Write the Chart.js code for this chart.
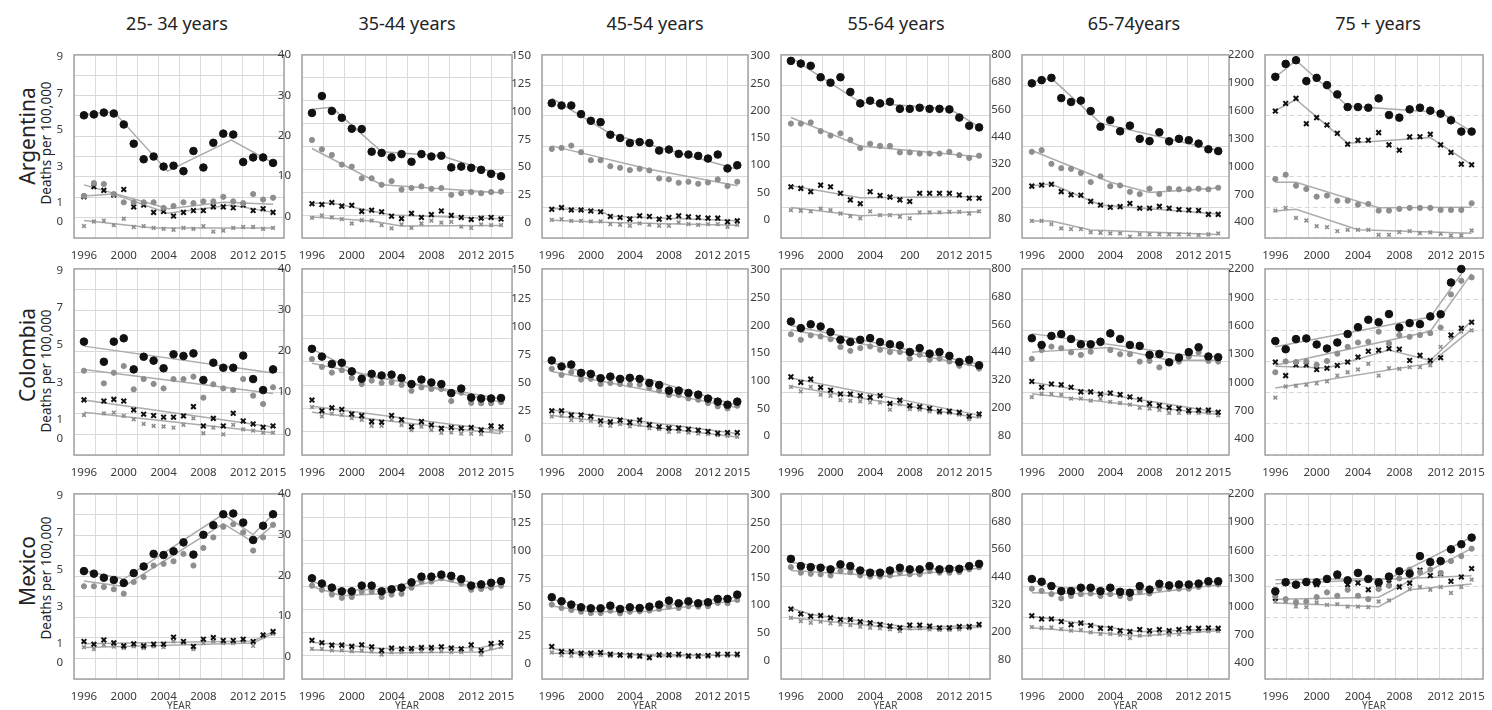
<!DOCTYPE html>
<html>
<head>
<meta charset="utf-8">
<script src="https://cdn.jsdelivr.net/npm/chart.js@4.4.1/dist/chart.umd.min.js"></script>
<style>
  body { margin: 0; background: #fff; }
  #wrap { position: relative; width: 1492px; height: 710px; overflow: hidden; font-family: 'Noto Sans', sans-serif; }
  #wrap canvas { position: absolute; }
  .title { position: absolute; top: 11px; font-size: 18px; color: #222; transform: translateX(-50%); white-space: nowrap; }
  .rot { position: absolute; white-space: nowrap; color: #222; transform: translate(-50%, -50%) rotate(-90deg); }
</style>
</head>
<body>
<div id="wrap"></div>
<script>
// years on the x axis
const years = [1996, 1997, 1998, 1999, 2000, 2001, 2002, 2003, 2004, 2005, 2006, 2007, 2008, 2009, 2010, 2011, 2012, 2013, 2014, 2015];
const xTickYears = [1996, 2000, 2004, 2008, 2012, 2015];
const xLabels = ['1996', '2000', '2004', '2008', '2012', '2015'];
const xLabelsTypo = ['1996', '2000', '2004', '200', '2012', '2015'];

const ageGroups = ['25- 34 years', '35-44 years', '45-54 years', '55-64 years', '65-74years', '75 + years'];
const countries = ['Argentina', 'Colombia', 'Mexico'];

// y axis per age group
const yMins = [-0.9, -5.4, -14, -34, -5, 230];
const yMaxs = [9.1, 40, 151, 302, 800, 2200];
const yTickVals = [
  [0, 1, 3, 5, 7, 9],
  [0, 10, 20, 30, 40],
  [0, 25, 50, 75, 100, 125, 150],
  [0, 50, 100, 150, 200, 250, 300],
  [80, 200, 320, 440, 560, 680, 800],
  [400, 700, 1000, 1300, 1600, 1900, 2200]
];

// ---- Argentina ----
const ARG25_dot = [5.8, 5.85, 5.95, 5.9, 5.3, 4.25, 3.4, 3.55, 3.0, 3.05, 2.75, 3.85, 2.95, 4.3, 4.8, 4.75, 3.25, 3.5, 3.5, 3.2];
const ARG25_dotGray = [1.4, 2.1, 2.05, 1.5, 1.05, 1.05, 1.05, 1.05, 0.75, 0.85, 1.05, 1.0, 1.1, 1.1, 1.35, 1.1, 1.0, 1.5, 1.2, 1.3];
const ARG25_x = [1.35, 1.9, 1.7, 1.45, 1.75, 0.8, 0.9, 0.5, 0.55, 0.3, 0.5, 0.6, 0.6, 0.8, 0.8, 0.75, 0.9, 0.6, 0.7, 0.5];
const ARG25_xGray = [-0.25, 0.0, 0.05, -0.2, 0.15, -0.3, -0.25, -0.35, -0.4, -0.45, -0.35, -0.4, -0.25, -0.55, -0.5, -0.35, -0.3, -0.3, -0.4, -0.35];
const ARG25_dotFit = [[1996, 5.85], [1999, 6.0], [2004.4, 2.75], [2010.8, 4.45], [2015, 3.2]];
const ARG25_dotGrayFit = [[1996, 2.0], [2004.5, 0.7], [2010, 1.05], [2015, 0.95]];
const ARG25_xFit = [[1996, 1.4], [1999, 1.5], [2004.4, 0.45], [2010.8, 0.9], [2015, 0.5]];
const ARG25_xGrayFit = [[1996, 0.05], [2003, -0.35], [2015, -0.35]];

const ARG35_dot = [25.6, 29.8, 26.1, 24.4, 21.7, 21.6, 16.0, 15.7, 14.6, 15.4, 13.5, 15.4, 14.8, 15.0, 12.1, 12.3, 12.0, 11.5, 10.5, 9.9];
const ARG35_dotGray = [18.9, 16.6, 15.2, 12.8, 12.3, 9.4, 9.4, 7.8, 8.7, 6.6, 7.0, 7.4, 6.8, 7.0, 5.3, 5.7, 6.0, 5.7, 6.0, 6.1];
const ARG35_x = [3.1, 2.9, 3.4, 2.5, 2.7, 1.2, 1.5, 1.1, 0.0, -0.6, 0.7, -0.3, 0.4, 1.3, 0.2, -0.3, -0.8, -0.5, -0.3, -0.7];
const ARG35_xGray = [-0.4, 0.2, -0.3, -0.7, -1.8, -1.0, -1.1, -2.2, -3.0, -2.0, -2.9, -1.8, -1.1, -1.6, -1.4, -2.6, -2.9, -2.0, -2.2, -2.2];
const ARG35_dotFit = [[1996, 26.5], [1998, 27.0], [2003, 16.0], [2009, 15.0], [2015, 10.2]];
const ARG35_dotGrayFit = [[1996, 16.8], [2003, 7.8], [2015, 5.8]];
const ARG35_xFit = [[1996, 3.2], [1998, 3.3], [2004, 0.3], [2015, -0.6]];
const ARG35_xGrayFit = [[1996, -0.2], [2002, -1.2], [2005, -2.4], [2015, -2.3]];

const ARG45_dot = [107.5, 105.4, 105.4, 97.6, 91.6, 90.4, 79.1, 76.1, 71.6, 72.5, 71.6, 64.8, 65.7, 61.8, 61.2, 60.0, 57.6, 61.2, 48.7, 51.6];
const ARG45_dotGray = [66.3, 67.2, 69.3, 63.3, 56.1, 56.1, 50.7, 49.3, 47.2, 48.4, 46.9, 39.7, 38.8, 35.8, 36.7, 34.9, 36.0, 38.8, 32.8, 36.7];
const ARG45_x = [11.9, 13.4, 11.3, 11.3, 10.4, 9.6, 5.4, 4.5, 3.0, 6.0, 5.4, 3.0, 4.5, 6.0, 5.1, 4.5, 3.9, 3.9, 0.6, 1.5];
const ARG45_xGray = [2.4, 3.0, 1.5, 1.5, 0.9, 0.9, -1.5, -2.1, -3.0, -0.9, -2.1, -3.0, -3.0, 0, -1.5, -2.1, -1.5, -1.5, -3.9, -2.1];
const ARG45_dotFit = [[1996, 112], [2002, 80], [2015, 48]];
const ARG45_dotGrayFit = [[1996, 69], [2006, 48], [2015, 33]];
const ARG45_xFit = [[1996, 12.5], [2001, 10.5], [2002, 5.5], [2015, 1.5]];
const ARG45_xGrayFit = [[1996, 2], [2002, 0], [2015, -2.5]];

const ARG55_dot = [291, 286, 282, 261, 251, 261, 234, 213, 218, 213, 216, 203, 203, 205, 203, 203, 202, 187, 172, 169];
const ARG55_dotGray = [176, 176, 178, 162, 154, 158, 146, 131, 139, 135, 135, 123, 123, 121, 121, 121, 124, 118, 113, 117];
const ARG55_x = [60, 57, 51, 63, 60, 48, 36, 29, 51, 44, 41, 36, 33, 48, 48, 48, 48, 45, 39, 39];
const ARG55_xGray = [17, 16, 15, 20, 17, 11, 6, 2, 15, 8, 8, 5, 2, 13, 13, 13, 14, 14, 11, 15];
const ARG55_dotFit = [[1996, 297], [2003, 215], [2012, 203], [2015, 170]];
const ARG55_dotGrayFit = [[1996, 187], [2003, 135], [2015, 115]];
const ARG55_xFit = [[1996, 62], [2003, 40], [2015, 42]];
const ARG55_xGrayFit = [[1996, 22], [2003, 7], [2015, 14]];

const ARG65_dot = [675, 689, 699, 610, 593, 599, 553, 484, 513, 464, 489, 431, 421, 460, 420, 431, 425, 410, 385, 377];
const ARG65_dotGray = [374, 381, 321, 302, 299, 281, 241, 266, 223, 226, 198, 188, 212, 188, 212, 209, 209, 212, 209, 216];
const ARG65_x = [223, 228, 231, 199, 185, 183, 156, 140, 130, 133, 147, 126, 126, 134, 126, 120, 118, 116, 99, 99];
const ARG65_xGray = [70, 70, 56, 37, 34, 34, 20, 18, 15, 15, 1, 11, 11, 11, 11, 11, 11, 8, 11, 15];
const ARG65_dotFit = [[1996, 680], [1998, 697], [2003, 500], [2009, 440], [2015, 380]];
const ARG65_dotGrayFit = [[1996, 380], [2004, 240], [2008, 195], [2015, 215]];
const ARG65_xFit = [[1996, 225], [1998, 232], [2003, 140], [2015, 100]];
const ARG65_xGrayFit = [[1996, 70], [1998, 70], [2002, 30], [2015, 10]];

const ARG75_dot = [1964, 2103, 2143, 1918, 1953, 1875, 1775, 1639, 1639, 1632, 1732, 1553, 1525, 1614, 1632, 1600, 1568, 1496, 1375, 1375];
const ARG75_dotGray = [864, 911, 793, 757, 675, 686, 632, 632, 589, 596, 525, 525, 543, 554, 554, 554, 532, 532, 532, 604];
const ARG75_x = [1596, 1678, 1732, 1460, 1525, 1446, 1357, 1239, 1282, 1282, 1364, 1232, 1175, 1318, 1320, 1346, 1232, 1150, 1025, 1018];
const ARG75_xGray = [525, 554, 446, 418, 357, 346, 304, 318, 318, 318, 264, 264, 293, 304, 282, 290, 275, 257, 257, 311];
const ARG75_dotFit = [[1996, 1960], [1998, 2140], [2003, 1650], [2012, 1580], [2015, 1375]];
const ARG75_dotGrayFit = [[1996, 830], [1998, 830], [2006, 555], [2015, 560]];
const ARG75_xFit = [[1996, 1600], [1998, 1720], [2003, 1250], [2011, 1310], [2015, 1020]];
const ARG75_xGrayFit = [[1996, 520], [1998, 540], [2004, 320], [2015, 280]];

// ---- Colombia ----
const COL25_dot = [5.19, null, 4.11, 5.19, 5.37, 3.70, 4.38, 4.17, 3.76, 4.51, 4.42, 4.56, 3.13, 4.06, 3.79, 3.79, 4.44, 3.18, 2.59, 3.70];
const COL25_dotGray = [3.63, null, 2.95, 3.52, 3.88, 2.63, 3.18, 2.92, 2.68, 3.18, 3.18, 3.31, 2.18, 2.90, 2.68, 2.59, 3.18, 2.29, 1.84, 2.74];
const COL25_x = [2.06, null, 2.0, 2.09, 2.0, 1.52, 1.29, 1.22, 1.13, 1.13, 1.20, 1.70, 0.66, 1.07, 0.66, 1.34, 0.93, 0.77, 0.59, 0.66];
const COL25_xGray = [1.25, null, 1.34, 1.38, 1.2, 1.02, 0.77, 0.66, 0.63, 0.57, 0.72, 1.07, 0.27, 0.57, 0.21, 0.72, 0.48, 0.41, 0.30, 0.30];
const COL25_dotFit = [[1996, 4.95], [2015, 3.5]];
const COL25_dotGrayFit = [[1996, 3.7], [2015, 2.4]];
const COL25_xFit = [[1996, 2.05], [2015, 0.6]];
const COL25_xGrayFit = [[1996, 1.4], [2015, 0.3]];

const COL35_dot = [20.5, 18.6, 16.8, 17.1, 15.0, 13.2, 14.4, 14.0, 14.2, 13.4, 11.9, 13.0, 12.3, 11.9, 9.7, 10.8, 8.6, 8.4, 8.4, 8.5];
const COL35_dotGray = [18.0, 16.1, 14.7, 15.3, 13.4, 11.9, 12.75, 12.2, 12.3, 11.7, 10.25, 11.1, 10.7, 10.7, 7.75, 9.8, 7.3, 7.2, 7.2, 7.5];
const COL35_x = [8.0, 5.4, 6.1, 5.7, 4.6, 4.2, 2.75, 2.6, 4.25, 3.2, 1.5, 2.75, 1.9, 1.1, 1.3, 1.1, 1.3, 0.7, 1.7, 1.5];
const COL35_xGray = [6.3, 4.0, 4.7, 4.4, 3.6, 3.2, 1.7, 1.7, 3.2, 1.9, 0.7, 1.5, 0.7, 0, 0.1, -0.2, -0.2, -0.3, 0.7, 0.5];
const COL35_dotFit = [[1996, 20.5], [2001, 14.2], [2015, 8.3]];
const COL35_dotGrayFit = [[1996, 17], [2015, 7.5]];
const COL35_xFit = [[1996, 6.5], [2015, 0.5]];
const COL35_xGrayFit = [[1996, 5], [2015, -0.2]];

const COL45_dot = [69.8, 64.5, 66.2, 58.8, 57.9, 54.1, 55.5, 53.5, 54.4, 53.5, 49.9, 48.1, 43.1, 43.1, 41.0, 39.5, 36, 33.3, 30.6, 33.3];
const COL45_dotGray = [62.4, 57.0, 59.4, 52.9, 53.5, 49.0, 49.9, 49.0, 48.4, 48.4, 45.4, 43.1, 39.2, 39.2, 36.2, 35.0, 32, 29.1, 27.3, 29.7];
const COL45_x = [25.2, 25.2, 21.4, 21.4, 20.2, 16.3, 15.4, 16.9, 14.9, 16.9, 12.8, 11.0, 9.8, 9.8, 8.9, 8.0, 6.8, 5.3, 5.9, 5.9];
const COL45_xGray = [20.2, 20.8, 16.9, 16.9, 16.3, 12.5, 11.9, 13.4, 11.3, 12.8, 9.8, 8.9, 6.5, 6.8, 5.9, 5.0, 4.5, 3.6, 3.0, 2.1];
const COL45_dotFit = [[1996, 68], [2001, 55], [2006, 53], [2015, 30]];
const COL45_dotGrayFit = [[1996, 60], [2015, 28]];
const COL45_xFit = [[1996, 26], [2015, 5]];
const COL45_xGrayFit = [[1996, 21], [2015, 2]];

const COL55_dot = [207, 195, 202, 198, 188, 174, 170, 174, 177, 170, 166, 164, 152, 159, 149, 152, 145, 134, 138, 128];
const COL55_dotGray = [184, 174, 182, 180, 175, 161, 154, 159, 162, 156, 152, 152, 140, 147, 138, 140, 135, 127, 132, 122];
const COL55_x = [107, 97, 103, 88, 83, 76, 76, 73, 70, 73, 59, 65, 55, 53, 50, 45, 45, 43, 36, 40];
const COL55_xGray = [89, 81, 89, 75, 73, 65, 64, 63, 61, 61, 48, 58, 49, 48, 45, 42, 42, 39, 31, 36];
const COL55_dotFit = [[1996, 200], [2015, 130]];
const COL55_dotGrayFit = [[1996, 192], [2015, 125]];
const COL55_xFit = [[1996, 105], [2015, 38]];
const COL55_xGrayFit = [[1996, 90], [2015, 33]];

const COL65_dot = [500, 471, 510, 518, 497, 474, 474, 485, 521, 497, 471, 467, 428, 432, 396, 416, 440, 461, 421, 418];
const COL65_dotGray = [411, 449, 464, 457, 439, 428, 442, 478, 449, 431, 431, 399, 402, 374, 396, 399, 420, 439, 402, 399];
const COL65_x = [313, 288, 302, 299, 288, 268, 268, 259, 263, 256, 246, 235, 217, 209, 200, 196, 187, 189, 189, 180];
const COL65_xGray = [245, 260, 259, 256, 239, 239, 230, 238, 225, 220, 213, 199, 196, 190, 177, 177, 177, 177, 177, 166];
const COL65_dotFit = [[1996, 520], [2012, 425], [2015, 420]];
const COL65_dotGrayFit = [[1996, 440], [2004, 460], [2010, 405], [2015, 405]];
const COL65_xFit = [[1996, 310], [2015, 180]];
const COL65_xGrayFit = [[1996, 260], [2015, 170]];

const COL75_dot = [1436, 1350, 1457, 1464, 1400, 1357, 1421, 1511, 1583, 1662, 1636, 1722, 1579, 1626, 1615, 1697, 1720, 2056, 2199, null];
const COL75_dotGray = [1106, 1221, 1214, 1221, 1185, 1225, 1303, 1375, 1421, 1429, 1536, 1411, 1500, 1482, 1500, 1520, 1579, 1930, 2074, 2110];
const COL75_x = [1214, 1070, 1185, 1185, 1135, 1149, 1178, 1214, 1267, 1328, 1339, 1357, 1350, 1231, 1285, 1231, 1260, 1500, 1572, 1636];
const COL75_xGray = [837, 955, 963, 973, 988, 1009, 1070, 1106, 1135, 1196, 1070, 1149, 1142, 1160, 1160, 1180, 1375, 1472, 1536, 1550];
const COL75_dotFit = [[1996, 1375], [2011, 1690], [2015, 2300]];
const COL75_dotGrayFit = [[1996, 1180], [2011, 1540], [2015, 2150]];
const COL75_xFit = [[1996, 1170], [2001, 1150], [2007, 1340], [2011, 1230], [2015, 1650]];
const COL75_xGrayFit = [[1996, 940], [2011, 1200], [2015, 1560]];

// ---- Mexico ----
const MEX25_dot = [4.93, 4.79, 4.57, 4.45, 4.29, 4.82, 5.18, 5.86, 5.80, 6.0, 6.48, 5.82, 6.89, 7.41, 8.0, 8.04, 7.55, 6.61, 7.38, 8.0];
const MEX25_dotGray = [4.11, 4.11, 4.07, 3.95, 3.71, 4.34, 4.61, 5.23, 5.32, 5.46, 5.86, 5.23, 6.18, 6.75, 7.32, 7.46, 7.02, 6.04, 6.75, 7.43];
const MEX25_x = [1.13, 0.98, 1.21, 1.05, 0.89, 1.0, 0.89, 0.98, 0.98, 1.36, 1.13, 0.86, 1.25, 1.34, 1.18, 1.18, 1.25, 1.13, 1.48, 1.66];
const MEX25_xGray = [0.82, 0.71, 0.95, 0.85, 0.77, 0.86, 0.77, 0.86, 0.82, 1.13, 1.04, 0.71, 1.04, 1.13, 1.04, 1.04, 1.13, 0.89, 1.39, 1.54];
const MEX25_dotFit = [[1996, 4.95], [2000, 4.5], [2010, 8.0], [2013, 6.9], [2015, 8.0]];
const MEX25_dotGrayFit = [[1996, 4.4], [2000, 4.1], [2010, 7.5], [2013, 6.5], [2015, 7.4]];
const MEX25_xFit = [[1996, 1.0], [2013, 1.15], [2015, 1.65]];
const MEX25_xGrayFit = [[1996, 0.8], [2013, 1.05], [2015, 1.55]];

const MEX35_dot = [19.3, 18.0, 17.0, 16.1, 16.1, 17.5, 17.5, 16.1, 16.6, 17.0, 18.3, 19.7, 19.7, 20.2, 19.9, 19.1, 17.5, 17.8, 18.2, 18.6];
const MEX35_dotGray = [17.5, 16.5, 15.3, 14.5, 14.7, 16.0, 16.0, 14.7, 15.3, 15.5, 17.0, 18.5, 18.5, 19.3, 19.0, 18.0, 16.5, 16.7, 17.0, 17.5];
const MEX35_x = [4.1, 3.5, 2.9, 2.9, 2.6, 3.0, 2.5, 1.6, 2.2, 2.0, 2.1, 2.3, 2.3, 2.5, 2.2, 2.0, 3.0, 1.6, 3.3, 3.5];
const MEX35_xGray = [2.0, 2.0, 1.6, 1.6, 1.4, 1.6, 1.4, 0.6, 1.2, 1.2, 1.3, 1.4, 1.4, 1.4, 1.2, 1.2, 1.9, 0.6, 2.2, 2.5];
const MEX35_dotFit = [[1996, 18.5], [1999, 16.3], [2003, 16.6], [2009, 20.0], [2013, 17.7], [2015, 18.5]];
const MEX35_dotGrayFit = [[1996, 17.3], [1999, 15.0], [2003, 15.5], [2009, 19.0], [2013, 16.8], [2015, 17.5]];
const MEX35_xFit = [[1996, 3.6], [2003, 2.1], [2013, 2.3], [2015, 3.3]];
const MEX35_xGrayFit = [[1996, 1.8], [2003, 1.0], [2013, 1.2], [2015, 2.3]];

const MEX45_dot = [58.9, 55.3, 52.3, 49.9, 49.0, 49.0, 51.4, 48.4, 49.9, 49.3, 50.5, 52.3, 55.9, 53.5, 55.3, 53.5, 54.4, 57.4, 57.4, 61.2];
const MEX45_dotGray = [52.3, 49.3, 47.5, 46.0, 44.8, 44.8, 46.9, 44.5, 46.0, 46.3, 47.0, 48.4, 50.5, 49.3, 50.8, 50.5, 50.8, 53.8, 53.5, 56.5];
const MEX45_x = [14.9, 10.5, 10.5, 9.0, 9.0, 9.6, 8.1, 7.5, 7.2, 6.6, 5.1, 7.5, 7.5, 8.1, 6.6, 6.6, 7.0, 8.1, 8.1, 8.1];
const MEX45_xGray = [9.6, 7.2, 6.6, 6.6, 6.6, 7.2, 6.6, 6.6, 5.7, 5.7, 4.5, 6.6, 6.6, 6.6, 5.7, 5.7, 6.0, 6.6, 6.6, 6.6];
const MEX45_dotFit = [[1996, 57], [2000, 49.5], [2006, 50], [2015, 59]];
const MEX45_dotGrayFit = [[1996, 51], [2000, 46], [2006, 46.5], [2015, 56]];
const MEX45_xFit = [[1996, 13], [1998, 10], [2007, 6.5], [2015, 7.5]];
const MEX45_xGrayFit = [[1996, 9], [2015, 7]];

const MEX55_dot = [184, 171, 169, 168, 165, 174, 171, 163, 159, 159, 163, 168, 165, 165, 171, 165, 166, 166, 171, 175];
const MEX55_dotGray = [169, 159, 157, 156, 154, 162, 160, 154, 152, 152, 154, 159, 156, 156, 162, 159, 159, 160, 165, 169];
const MEX55_x = [93, 84, 80, 81, 77, 74, 74, 70, 68, 65, 62, 59, 64, 64, 62, 59, 59, 61, 61, 65];
const MEX55_xGray = [77, 71, 68, 70, 67, 65, 64, 61, 59, 58, 56, 53, 58, 58, 56, 55, 55, 56, 58, 62];
const MEX55_dotFit = [[1996, 178], [2000, 168], [2006, 160], [2015, 172]];
const MEX55_dotGrayFit = [[1996, 163], [2006, 152], [2015, 167]];
const MEX55_xFit = [[1996, 95], [1998, 83], [2008, 60], [2015, 63]];
const MEX55_xGrayFit = [[1996, 77], [2008, 56], [2015, 60]];

const MEX65_dot = [430, 418, 399, 377, 377, 392, 392, 377, 392, 374, 370, 399, 384, 409, 402, 406, 406, 410, 420, 420];
const MEX65_dotGray = [388, 378, 364, 346, 356, 364, 367, 356, 364, 356, 346, 374, 367, 388, 388, 388, 388, 395, 406, 406];
const MEX65_x = [270, 256, 256, 245, 231, 238, 228, 215, 215, 205, 201, 210, 205, 210, 205, 210, 215, 215, 217, 215];
const MEX65_xGray = [221, 217, 219, 212, 205, 208, 198, 191, 191, 187, 173, 184, 187, 191, 187, 190, 196, 203, 203, 203];
const MEX65_dotFit = [[1996, 425], [1999, 392], [2007, 382], [2015, 420]];
const MEX65_dotGrayFit = [[1996, 370], [2007, 362], [2015, 405]];
const MEX65_xFit = [[1996, 268], [2007, 200], [2015, 212]];
const MEX65_xGrayFit = [[1996, 218], [2007, 182], [2015, 205]];

const MEX75_dot = [1163, 1259, 1234, 1263, 1259, 1295, 1342, 1281, 1359, 1295, 1259, 1320, 1377, 1352, 1538, 1474, 1485, 1610, 1664, 1735];
const MEX75_dotGray = [1109, 1080, 1048, 1055, 1102, 1152, 1116, 1180, 1116, 1080, 1188, 1223, 1300, 1395, 1367, 1395, 1359, 1485, 1538, 1617];
const MEX75_x = [1091, 1270, 1234, 1252, 1234, 1288, 1324, 1234, 1252, 1180, 1198, 1252, 1209, 1250, 1388, 1331, 1352, 1270, 1316, 1406];
const MEX75_xGray = [1055, 1055, 1001, 994, 1044, 1019, 1026, 1001, 1001, 994, 1055, 1066, 1223, 1188, 1209, 1180, 1209, 1145, 1209, 1288];
const MEX75_dotFit = [[1996, 1285], [2007, 1300], [2015, 1740]];
const MEX75_dotGrayFit = [[1996, 1080], [2006, 1100], [2015, 1620]];
const MEX75_xFit = [[1996, 1245], [2015, 1330]];
const MEX75_xGrayFit = [[1996, 1040], [2006, 1000], [2009, 1180], [2015, 1240]];

// panels: [dot, dotGray, x, xGray, dotFit, dotGrayFit, xFit, xGrayFit]
const panelData = [
  [ARG25_dot, ARG25_dotGray, ARG25_x, ARG25_xGray, ARG25_dotFit, ARG25_dotGrayFit, ARG25_xFit, ARG25_xGrayFit],
  [ARG35_dot, ARG35_dotGray, ARG35_x, ARG35_xGray, ARG35_dotFit, ARG35_dotGrayFit, ARG35_xFit, ARG35_xGrayFit],
  [ARG45_dot, ARG45_dotGray, ARG45_x, ARG45_xGray, ARG45_dotFit, ARG45_dotGrayFit, ARG45_xFit, ARG45_xGrayFit],
  [ARG55_dot, ARG55_dotGray, ARG55_x, ARG55_xGray, ARG55_dotFit, ARG55_dotGrayFit, ARG55_xFit, ARG55_xGrayFit],
  [ARG65_dot, ARG65_dotGray, ARG65_x, ARG65_xGray, ARG65_dotFit, ARG65_dotGrayFit, ARG65_xFit, ARG65_xGrayFit],
  [ARG75_dot, ARG75_dotGray, ARG75_x, ARG75_xGray, ARG75_dotFit, ARG75_dotGrayFit, ARG75_xFit, ARG75_xGrayFit],
  [COL25_dot, COL25_dotGray, COL25_x, COL25_xGray, COL25_dotFit, COL25_dotGrayFit, COL25_xFit, COL25_xGrayFit],
  [COL35_dot, COL35_dotGray, COL35_x, COL35_xGray, COL35_dotFit, COL35_dotGrayFit, COL35_xFit, COL35_xGrayFit],
  [COL45_dot, COL45_dotGray, COL45_x, COL45_xGray, COL45_dotFit, COL45_dotGrayFit, COL45_xFit, COL45_xGrayFit],
  [COL55_dot, COL55_dotGray, COL55_x, COL55_xGray, COL55_dotFit, COL55_dotGrayFit, COL55_xFit, COL55_xGrayFit],
  [COL65_dot, COL65_dotGray, COL65_x, COL65_xGray, COL65_dotFit, COL65_dotGrayFit, COL65_xFit, COL65_xGrayFit],
  [COL75_dot, COL75_dotGray, COL75_x, COL75_xGray, COL75_dotFit, COL75_dotGrayFit, COL75_xFit, COL75_xGrayFit],
  [MEX25_dot, MEX25_dotGray, MEX25_x, MEX25_xGray, MEX25_dotFit, MEX25_dotGrayFit, MEX25_xFit, MEX25_xGrayFit],
  [MEX35_dot, MEX35_dotGray, MEX35_x, MEX35_xGray, MEX35_dotFit, MEX35_dotGrayFit, MEX35_xFit, MEX35_xGrayFit],
  [MEX45_dot, MEX45_dotGray, MEX45_x, MEX45_xGray, MEX45_dotFit, MEX45_dotGrayFit, MEX45_xFit, MEX45_xGrayFit],
  [MEX55_dot, MEX55_dotGray, MEX55_x, MEX55_xGray, MEX55_dotFit, MEX55_dotGrayFit, MEX55_xFit, MEX55_xGrayFit],
  [MEX65_dot, MEX65_dotGray, MEX65_x, MEX65_xGray, MEX65_dotFit, MEX65_dotGrayFit, MEX65_xFit, MEX65_xGrayFit],
  [MEX75_dot, MEX75_dotGray, MEX75_x, MEX75_xGray, MEX75_dotFit, MEX75_dotGrayFit, MEX75_xFit, MEX75_xGrayFit]
];

// layout (pixels of the plot areas)
const rowBox = [[53, 238], [267, 455], [492, 679]];
const colBox = [[74, 284], [302, 512], [542, 748], [781, 990], [1022, 1229], [1265, 1483]];
const xAxisH = [22, 22, 33];
const gridRows = [9, 8, 6, 6, 6, 6];
const PAD_T = 8, PAD_R = 14, Y_W = 36;
const FONT = "'Noto Sans', sans-serif";

const wrap = document.getElementById('wrap');

ageGroups.forEach((t, c) => {
  const d = document.createElement('div');
  d.className = 'title';
  d.textContent = t;
  d.style.left = [177, 407, 655, 896, 1134, 1378][c] + 'px';
  wrap.appendChild(d);
});

const rowLabelY = [[136, 143], [355, 371], [571, 578]];
countries.forEach((name, r) => {
  const a = document.createElement('div');
  a.className = 'rot';
  a.style.fontSize = '21px';
  a.style.left = '27px';
  a.style.top = rowLabelY[r][0] + 'px';
  a.textContent = name;
  wrap.appendChild(a);
  const b = document.createElement('div');
  b.className = 'rot';
  b.style.fontSize = '13.5px';
  b.style.left = '46px';
  b.style.top = rowLabelY[r][1] + 'px';
  b.textContent = 'Deaths per 100,000';
  wrap.appendChild(b);
});

// plot frame
const frame = {
  id: 'frame',
  beforeDatasetsDraw(chart) {
    const a = chart.chartArea, ctx = chart.ctx;
    ctx.save();
    ctx.strokeStyle = '#a3a3a3';
    ctx.lineWidth = 1.5;
    ctx.strokeRect(a.left, a.top, a.right - a.left, a.bottom - a.top);
    ctx.restore();
  }
};

function pts(vals) {
  return years.map((yr, i) => ({ x: yr, y: vals[i] }));
}

function pointSet(vals, style, radius, color, bw) {
  return {
    data: pts(vals), showLine: false, order: 1, clip: 8,
    pointStyle: style, pointRadius: radius, pointBorderWidth: bw,
    backgroundColor: color, borderColor: color
  };
}

function fitSet(fit) {
  return {
    data: fit.map(p => ({ x: p[0], y: p[1] })), showLine: true, order: 2, clip: 0,
    pointRadius: 0, borderColor: '#ababab', borderWidth: 1.5
  };
}

for (let r = 0; r < 3; r++) {
  for (let c = 0; c < 6; c++) {
    const d = panelData[r * 6 + c];
    const [pl, pr] = colBox[c];
    const [pt, pb] = rowBox[r];
    const cv = document.createElement('canvas');
    const w = Y_W + (pr - pl) + PAD_R;
    const h = PAD_T + (pb - pt) + xAxisH[r];
    cv.width = w; cv.height = h;
    cv.style.left = (pl - Y_W) + 'px';
    cv.style.top = (pt - PAD_T) + 'px';
    cv.style.width = w + 'px'; cv.style.height = h + 'px';
    wrap.appendChild(cv);
    const labels = (r === 0 && c === 3) ? xLabelsTypo : xLabels;

    new Chart(cv, {
      type: 'scatter',
      data: {
        datasets: [
          pointSet(d[0], 'circle', 3.8, '#111', 1),
          pointSet(d[1], 'circle', 2.6, '#8e8e8e', 1),
          pointSet(d[2], 'crossRot', 3.3, '#111', 2),
          pointSet(d[3], 'crossRot', 2.6, '#8e8e8e', 1.6),
          fitSet(d[4]), fitSet(d[5]), fitSet(d[6]), fitSet(d[7])
        ].map(ds => Object.assign(ds, { xAxisID: 'x', yAxisID: 'y' }))
      },
      options: {
        responsive: false,
        animation: false,
        events: [],
        layout: { padding: { left: 0, right: PAD_R, top: PAD_T, bottom: 0 } },
        plugins: { legend: { display: false }, tooltip: { enabled: false } },
        scales: {
          x: {
            type: 'linear', position: 'bottom', min: 1995, max: 2016.1,
            grid: { display: false }, border: { display: false },
            afterBuildTicks: s => { s.ticks = xTickYears.map(v => ({ value: v })); },
            afterFit: s => { s.height = xAxisH[r]; },
            ticks: {
              autoSkip: false, maxRotation: 0, padding: 3, color: '#3c3c3c',
              font: { family: FONT, size: 11.5 },
              callback: (v, i) => labels[i]
            },
            title: { display: r === 2, text: 'YEAR', color: '#444', font: { family: FONT, size: 10 }, padding: { top: 0, bottom: 0 } }
          },
          y: {
            type: 'linear', position: 'left', min: yMins[c], max: yMaxs[c],
            grid: { display: false }, border: { display: false },
            afterBuildTicks: s => { s.ticks = yTickVals[c].map(v => ({ value: v })); },
            afterFit: s => { s.width = Y_W; },
            ticks: { padding: 3, color: '#3c3c3c', font: { family: FONT, size: 11.5 }, callback: v => String(v) }
          },
          gx: {
            type: 'linear', position: 'top', min: 0, max: 10,
            ticks: { display: false, stepSize: 1 },
            grid: { color: '#dcdcdc', lineWidth: 1, drawTicks: false },
            border: { display: false },
            afterFit: s => { s.height = 0; }
          },
          gy: {
            type: 'linear', position: 'right', min: 0, max: gridRows[c],
            ticks: { display: false, stepSize: 1 },
            grid: { color: '#d8d8d8', lineWidth: 1, drawTicks: false },
            border: { display: false, dash: c === 5 ? [5, 3] : [] },
            afterFit: s => { s.width = 0; }
          }
        }
      },
      plugins: [frame]
    });
  }
}
</script>
</body>
</html>
